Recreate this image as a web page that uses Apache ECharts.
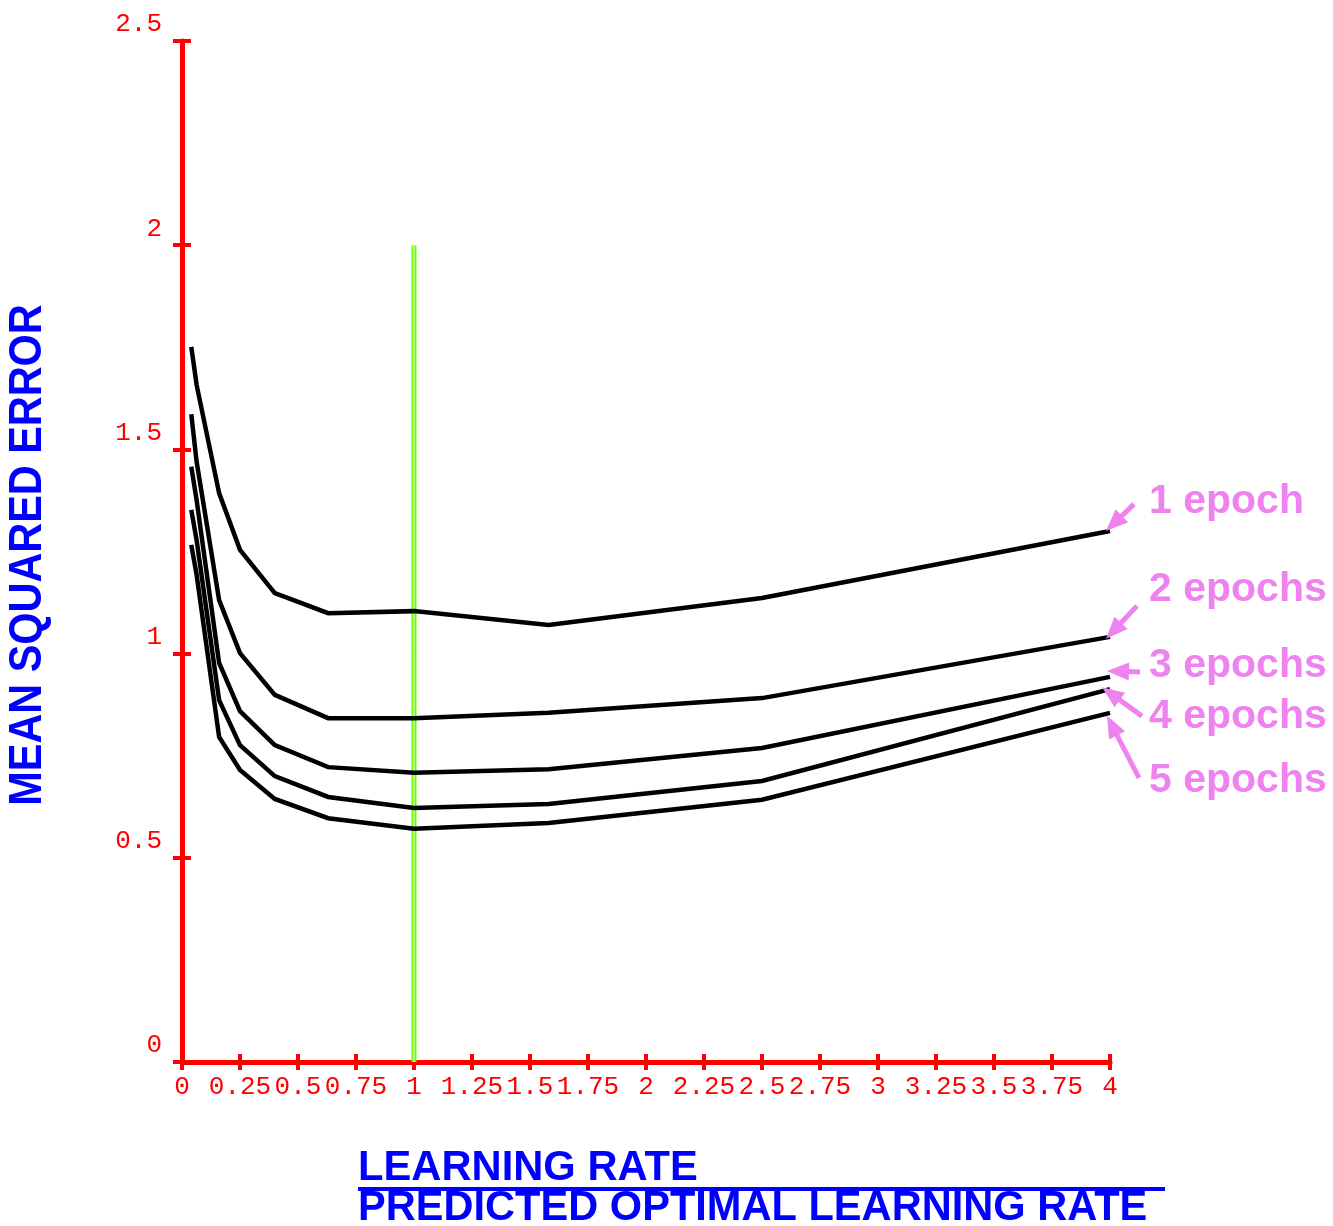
<!DOCTYPE html>
<html><head><meta charset="utf-8">
<script src="https://cdn.jsdelivr.net/npm/echarts@6/dist/echarts.min.js"></script>
<style>html,body{margin:0;padding:0;background:#fff}#c{width:1333px;height:1226px}</style>
</head><body><div id="c"></div>
<script>
// ---- data ----
const learningRates = [0.04, 0.063, 0.16, 0.25, 0.4, 0.63, 1.0, 1.58, 2.5, 4.0];
const mse1Epoch  = [1.751, 1.658, 1.393, 1.254, 1.148, 1.099, 1.104, 1.070, 1.136, 1.300];
const mse2Epochs = [1.586, 1.470, 1.131, 1.001, 0.899, 0.842, 0.842, 0.855, 0.891, 1.041];
const mse3Epochs = [1.458, 1.376, 0.977, 0.859, 0.776, 0.722, 0.708, 0.717, 0.769, 0.943];
const mse4Epochs = [1.352, 1.278, 0.886, 0.776, 0.700, 0.649, 0.622, 0.632, 0.688, 0.913];
const mse5Epochs = [1.266, 1.193, 0.796, 0.715, 0.644, 0.597, 0.571, 0.585, 0.642, 0.855];
const seriesNames = ['1 epoch', '2 epochs', '3 epochs', '4 epochs', '5 epochs'];
const predictedOptimalRate = 1.0;
const optimalLineSpan = [0, 2];
const xTicks = [0, 0.25, 0.5, 0.75, 1, 1.25, 1.5, 1.75, 2, 2.25, 2.5, 2.75, 3, 3.25, 3.5, 3.75, 4];
const yTicks = [0, 0.5, 1, 1.5, 2, 2.5];
const xTitle1 = 'LEARNING RATE';
const xTitle2 = 'PREDICTED OPTIMAL LEARNING RATE';
const yTitle = 'MEAN SQUARED ERROR';

const allSeries = [mse1Epoch, mse2Epochs, mse3Epochs, mse4Epochs, mse5Epochs];
const RED = '#ff0000', BLUE = '#0000ff', VIOLET = '#ee82ee', GREEN = '#66ff00';

const chart = echarts.init(document.getElementById('c'), null, {renderer: 'canvas'});

function axisCommon(ticks, interval) {
  return {
    type: 'value', min: ticks[0], max: ticks[ticks.length - 1], interval: interval,
    splitLine: {show: false}
  };
}
const labelFont = {color: RED, fontFamily: 'Liberation Mono', fontSize: 26};

const option = {
  animation: false,
  backgroundColor: '#fff',
  grid: {left: 182, right: 223, top: 41, bottom: 164, containLabel: false},
  xAxis: [
    Object.assign(axisCommon(xTicks, 0.25), {
      position: 'bottom',
      axisLine: {show: true, onZero: false, lineStyle: {color: RED, width: 5}},
      axisTick: {show: true, inside: false, length: 8, lineStyle: {color: RED, width: 4}},
      axisLabel: Object.assign({show: true, margin: 12, showMinLabel: true, showMaxLabel: true,
        formatter: v => String(v)}, labelFont)
    }),
    Object.assign(axisCommon(xTicks, 0.25), {
      position: 'bottom',
      axisLine: {show: false},
      axisTick: {show: true, inside: true, length: 8, lineStyle: {color: RED, width: 4}},
      axisLabel: {show: false}
    })
  ],
  yAxis: [
    Object.assign(axisCommon(yTicks, 0.5), {
      position: 'left',
      axisLine: {show: true, onZero: false, lineStyle: {color: RED, width: 5}},
      axisTick: {show: true, inside: false, length: 9, lineStyle: {color: RED, width: 4}},
      axisLabel: Object.assign({show: true, margin: 20, verticalAlign: 'bottom', lineHeight: 33,
        showMinLabel: true, showMaxLabel: true, formatter: v => String(v)}, labelFont)
    }),
    Object.assign(axisCommon(yTicks, 0.5), {
      position: 'left',
      axisLine: {show: false},
      axisTick: {show: true, inside: true, length: 9, lineStyle: {color: RED, width: 4}},
      axisLabel: {show: false}
    })
  ],
  series: [
    {
      name: 'optimal', type: 'line', xAxisIndex: 0, yAxisIndex: 0, z: 1,
      data: optimalLineSpan.map(v => [predictedOptimalRate, v]),
      showSymbol: false, lineStyle: {color: GREEN, width: 5}, silent: true
    },
    {
      name: 'optimal-gap', type: 'line', xAxisIndex: 0, yAxisIndex: 0, z: 1,
      data: optimalLineSpan.map(v => [predictedOptimalRate, v]),
      showSymbol: false, lineStyle: {color: '#ffffff', width: 1}, silent: true
    }
  ].concat(allSeries.map((vals, i) => ({
    name: seriesNames[i], type: 'line', xAxisIndex: 0, yAxisIndex: 0, z: 2,
    data: learningRates.map((x, j) => [x, vals[j]]),
    showSymbol: false, smooth: false,
    lineStyle: {color: '#000000', width: 4.5, cap: 'butt', join: 'miter'}
  })))
};
chart.setOption(option);

// ---- annotations (titles, labels, arrows) ----
const labelCenters = [502, 590, 666, 717, 781];
// arrow tip offset from curve end, and tail vector from tip (pixels)
const arrowGeom = [
  {tip: [-4, 0], tail: [28, -27]},
  {tip: [-4, 2], tail: [31, -33]},
  {tip: [-3, -6], tail: [33, 1]},
  {tip: [-8, -2], tail: [40, 29]},
  {tip: [-3, 3], tail: [32, 62]}
];
const gfx = [];
allSeries.forEach((vals, i) => {
  const end = chart.convertToPixel({xAxisIndex: 0, yAxisIndex: 0},
    [learningRates[learningRates.length - 1], vals[vals.length - 1]]);
  const g = arrowGeom[i];
  const T = [end[0] + g.tip[0], end[1] + g.tip[1]];
  const S = [T[0] + g.tail[0], T[1] + g.tail[1]];
  const dx = T[0] - S[0], dy = T[1] - S[1];
  const len = Math.hypot(dx, dy);
  const ux = dx / len, uy = dy / len;
  const headLen = 22, hw = 9;
  const B = [T[0] - ux * headLen, T[1] - uy * headLen];
  const nx = -uy, ny = ux;
  gfx.push({type: 'line', z: 10, shape: {x1: S[0], y1: S[1], x2: B[0] + ux * 2, y2: B[1] + uy * 2},
    style: {stroke: VIOLET, lineWidth: 5}});
  gfx.push({type: 'polygon', z: 10, shape: {points: [T, [B[0] + nx * hw, B[1] + ny * hw], [B[0] - nx * hw, B[1] - ny * hw]]},
    style: {fill: VIOLET}});
  gfx.push({type: 'text', z: 10, x: 1149, y: labelCenters[i],
    style: {text: seriesNames[i], x: 0, y: 0, fill: VIOLET, font: 'bold 41px "Liberation Sans", Arial, sans-serif',
      align: 'left', verticalAlign: 'middle', textAlign: 'left', textVerticalAlign: 'middle'}});
});
gfx.push({type: 'text', z: 10, x: 358, y: 1168, scaleX: 0.97,
  style: {text: xTitle1, x: 0, y: 0, fill: BLUE, font: 'bold 43px "Liberation Sans", Arial, sans-serif',
    align: 'left', verticalAlign: 'middle', textAlign: 'left', textVerticalAlign: 'middle'}});
gfx.push({type: 'rect', z: 10, shape: {x: 358, y: 1187, width: 807, height: 4}, style: {fill: BLUE}});
gfx.push({type: 'text', z: 10, x: 358, y: 1208, scaleX: 0.967,
  style: {text: xTitle2, x: 0, y: 0, fill: BLUE, font: 'bold 43px "Liberation Sans", Arial, sans-serif',
    align: 'left', verticalAlign: 'middle', textAlign: 'left', textVerticalAlign: 'middle'}});
gfx.push({type: 'text', z: 10, x: 28.5, y: 555, rotation: Math.PI / 2, scaleX: 0.9,
  style: {text: yTitle, x: 0, y: 0, fill: BLUE, font: 'bold 46px "Liberation Sans", Arial, sans-serif',
    align: 'center', verticalAlign: 'middle', textAlign: 'center', textVerticalAlign: 'middle'}});
chart.setOption({graphic: {elements: gfx}});
</script></body></html>
